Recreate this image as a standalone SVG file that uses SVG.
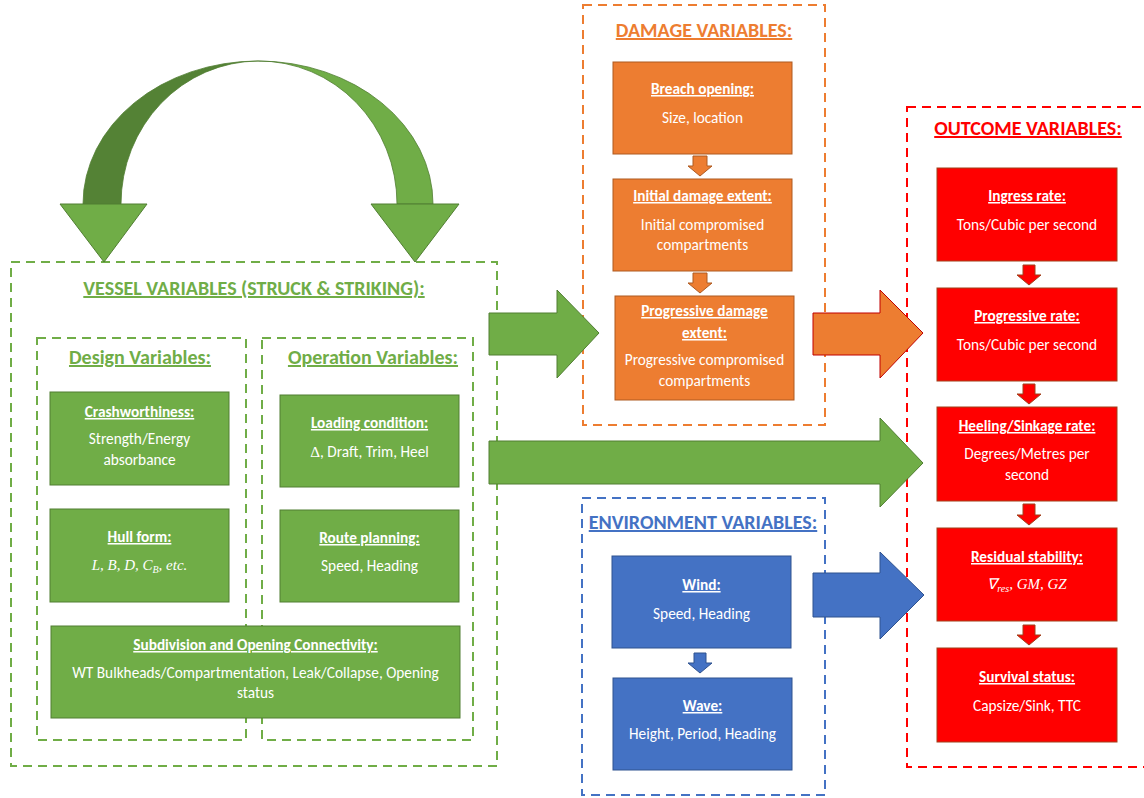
<svg xmlns="http://www.w3.org/2000/svg" width="1144" height="798" viewBox="0 0 1144 798">
<defs>
<style>
text{font-family:Carlito,Lato,"Liberation Sans",sans-serif;text-anchor:middle}
.t{font-size:15.3px;fill:#fff}
.h{font-size:15.3px;font-weight:bold;fill:#fff;text-decoration:underline}
.m{font-family:"Liberation Serif",serif;font-style:italic;font-size:15px;fill:#fff}
.sec{font-size:20px;font-weight:bold;text-decoration:underline}
.g{fill:#70AD47;stroke:#507E32;stroke-width:1}
.o{fill:#ED7D31;stroke:#AE5A21;stroke-width:1}
.r{fill:#FF0000;stroke:#A0401A;stroke-width:1}
.b{fill:#4472C4;stroke:#2F528F;stroke-width:1}
.dash{fill:none;stroke-width:2;stroke-dasharray:9,6}
</style>
</defs>
<rect width="1144" height="798" fill="#fff"/>

<!-- dashed containers -->
<g id="containers">
<rect class="dash" x="11" y="262" width="486" height="504" stroke="#70AD47"/>
<rect class="dash" x="37" y="338" width="209" height="402" stroke="#70AD47"/>
<rect class="dash" x="262" y="338" width="211" height="402" stroke="#70AD47"/>
<rect class="dash" x="583" y="5" width="242" height="420" stroke="#ED7D31"/>
<rect class="dash" x="582" y="498" width="243" height="297" stroke="#4472C4"/>
<rect class="dash" x="907" y="107" width="250" height="660" stroke="#FF0000"/>
<text class="sec" x="254" y="295" fill="#70AD47">VESSEL VARIABLES (STRUCK &amp; STRIKING):</text>
<text class="sec" x="140" y="364" fill="#70AD47">Design Variables:</text>
<text class="sec" x="373" y="364" fill="#70AD47">Operation Variables:</text>
<text class="sec" x="704" y="37" fill="#ED7D31">DAMAGE VARIABLES:</text>
<text class="sec" x="703" y="529" fill="#4472C4">ENVIRONMENT VARIABLES:</text>
<text class="sec" x="1028" y="135" fill="#FF0000">OUTCOME VARIABLES:</text>
</g>

<!-- connectors -->
<g id="connectors">
<path d="M83,204 A175,143 0 0 1 258,61 A138,143 0 0 0 121,204 Z" fill="#548235" stroke="#507E32" stroke-width="0.8"/>
<path d="M258,61 A175,143 0 0 1 433,204 L397,204 A138,143 0 0 0 258,61 Z" fill="#70AD47" stroke="#507E32" stroke-width="0.8"/>
<polygon class="g" points="60,204 147,204 104,262"/>
<polygon class="g" points="371,204 459,204 415,262"/>
<polygon class="g" points="489,313 557,313 557,290 599,333 557,378 557,355 489,355"/>
<polygon class="o" style="stroke:#C00000" points="813,313 880,313 880,290 923,333 880,378 880,355 813,355"/>
<polygon class="g" points="489,441 880,441 880,418 923,463 880,507 880,484 489,484"/>
<polygon class="b" points="813,573 880,573 880,552 924,595 880,639 880,617 813,617"/>
<polygon class="o" points="693,156 707,156 707,166 712,166 700,176 688,166 693,166"/>
<polygon class="o" points="693,273 707,273 707,283 712,283 700,293 688,283 693,283"/>
<polygon class="b" points="694,653 706,653 706,663 712,663 700,673 688,663 694,663"/>
<polygon class="r" points="1023,265 1035,265 1035,275 1041,275 1029,285 1017,275 1023,275"/>
<polygon class="r" points="1023,384 1035,384 1035,394 1041,394 1029,404 1017,394 1023,394"/>
<polygon class="r" points="1023,504 1035,504 1035,515 1041,515 1029,525 1017,515 1023,515"/>
<polygon class="r" points="1023,625 1035,625 1035,635 1041,635 1029,645 1017,635 1023,635"/>
</g>

<!-- vessel nodes -->
<g id="crashworthiness">
<rect class="g" x="50" y="392" width="179" height="93"/>
<text class="h" x="139.5" y="417">Crashworthiness:</text>
<text class="t" x="139.5" y="444">Strength/Energy</text>
<text class="t" x="139.5" y="465">absorbance</text>
</g>
<g id="hullform">
<rect class="g" x="50" y="509" width="179" height="93"/>
<text class="h" x="139.5" y="542">Hull form:</text>
<text class="m" x="139.5" y="570"><tspan>L, B, D, C</tspan><tspan font-size="10" dy="3">B</tspan><tspan dy="-3">, etc.</tspan></text>
</g>
<g id="loading">
<rect class="g" x="280" y="395" width="179" height="92"/>
<text class="h" x="369.5" y="428">Loading condition:</text>
<text class="t" x="369.5" y="457"><tspan font-family="Liberation Serif,serif">Δ</tspan>, Draft, Trim, Heel</text>
</g>
<g id="route">
<rect class="g" x="280" y="510" width="179" height="92"/>
<text class="h" x="369.5" y="543">Route planning:</text>
<text class="t" x="369.5" y="571">Speed, Heading</text>
</g>
<g id="subdivision">
<rect class="g" x="51" y="626" width="409" height="92"/>
<text class="h" x="255.5" y="650">Subdivision and Opening Connectivity:</text>
<text class="t" x="255.5" y="678">WT Bulkheads/Compartmentation, Leak/Collapse, Opening</text>
<text class="t" x="255.5" y="698">status</text>
</g>

<!-- damage nodes -->
<g id="breach">
<rect class="o" x="613" y="62" width="179" height="92"/>
<text class="h" x="702.5" y="94">Breach opening:</text>
<text class="t" x="702.5" y="123">Size, location</text>
</g>
<g id="initial">
<rect class="o" x="613" y="179" width="179" height="92"/>
<text class="h" x="702.5" y="201">Initial damage extent:</text>
<text class="t" x="702.5" y="230">Initial compromised</text>
<text class="t" x="702.5" y="250">compartments</text>
</g>
<g id="progressive-damage">
<rect class="o" x="615" y="296" width="179" height="104"/>
<text class="h" x="704.5" y="316">Progressive damage</text>
<text class="h" x="704.5" y="338">extent:</text>
<text class="t" x="704.5" y="365">Progressive compromised</text>
<text class="t" x="704.5" y="386">compartments</text>
</g>

<!-- environment nodes -->
<g id="wind">
<rect class="b" x="612" y="556" width="179" height="92"/>
<text class="h" x="701.5" y="590">Wind:</text>
<text class="t" x="701.5" y="619">Speed, Heading</text>
</g>
<g id="wave">
<rect class="b" x="613" y="678" width="179" height="92"/>
<text class="h" x="702.5" y="711">Wave:</text>
<text class="t" x="702.5" y="739">Height, Period, Heading</text>
</g>

<!-- outcome nodes -->
<g id="ingress">
<rect class="r" x="937" y="168" width="180" height="93"/>
<text class="h" x="1027" y="201">Ingress rate:</text>
<text class="t" x="1027" y="230">Tons/Cubic per second</text>
</g>
<g id="progressive-rate">
<rect class="r" x="937" y="288" width="180" height="93"/>
<text class="h" x="1027" y="321">Progressive rate:</text>
<text class="t" x="1027" y="350">Tons/Cubic per second</text>
</g>
<g id="heeling">
<rect class="r" x="937" y="407" width="180" height="94"/>
<text class="h" x="1027" y="431">Heeling/Sinkage rate:</text>
<text class="t" x="1027" y="459">Degrees/Metres per</text>
<text class="t" x="1027" y="480">second</text>
</g>
<g id="residual">
<rect class="r" x="937" y="528" width="180" height="93"/>
<text class="h" x="1027" y="562">Residual stability:</text>
<text class="m" x="1027" y="589"><tspan>∇</tspan><tspan font-size="10" dy="3">res</tspan><tspan dy="-3">, GM, GZ</tspan></text>
</g>
<g id="survival">
<rect class="r" x="937" y="648" width="180" height="94"/>
<text class="h" x="1027" y="682">Survival status:</text>
<text class="t" x="1027" y="711">Capsize/Sink, TTC</text>
</g>
</svg>
